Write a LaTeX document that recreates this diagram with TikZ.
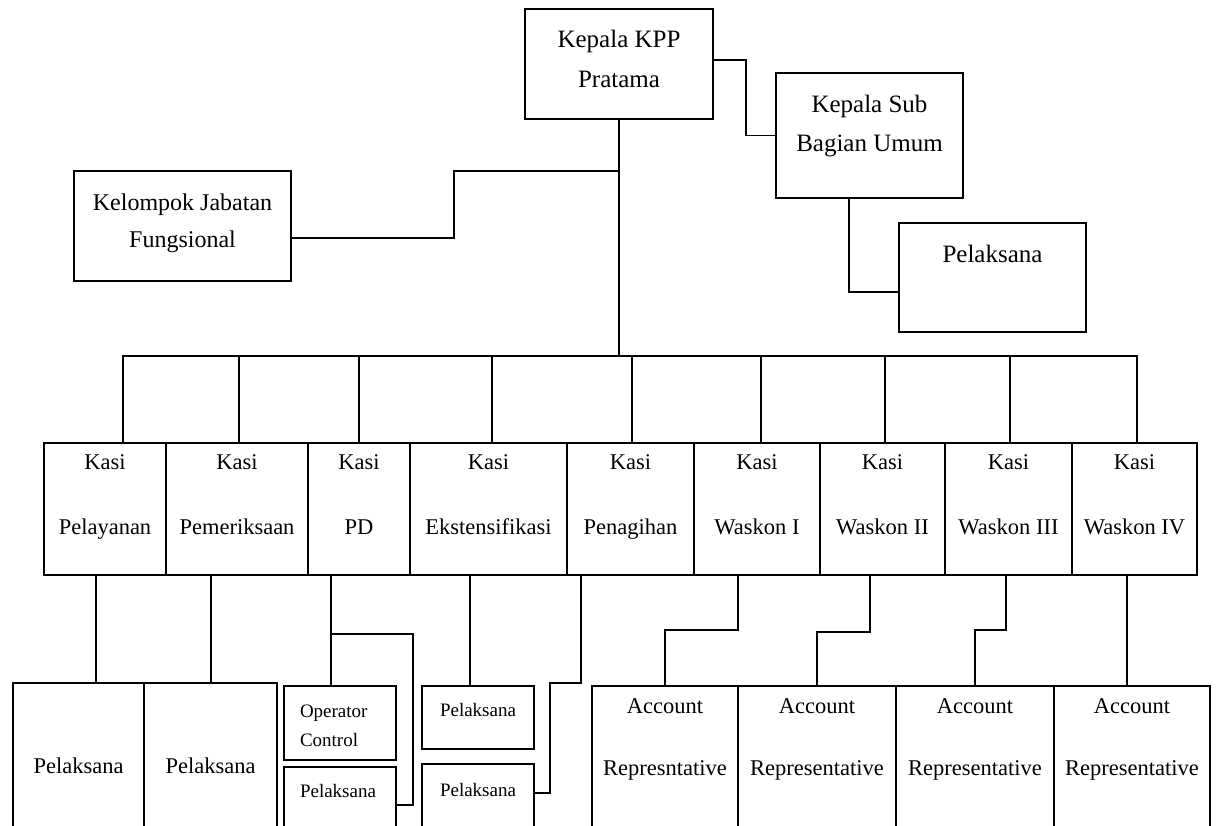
\documentclass[tikz,border=0pt]{standalone}
\usepackage{fontspec}
\setmainfont{Liberation Serif}
\usetikzlibrary{positioning}

\begin{document}
\begin{tikzpicture}[x=1pt,y=-1pt,
  unit/.style={draw,line width=1.4pt,inner sep=0pt,outer sep=0pt,align=center,anchor=north west},
  head/.style={unit,font=\fontsize{25}{40}\selectfont},
  kasi/.style={unit,font=\fontsize{22.5}{65}\selectfont,text height=91pt,text depth=41pt},
  ar/.style={unit,font=\fontsize{22.5}{62}\selectfont,text height=89pt,text depth=71pt},
  staff/.style={unit,font=\fontsize{22.5}{27}\selectfont,text height=90pt,text depth=70pt},
  small/.style={unit,font=\fontsize{19}{29}\selectfont,inner xsep=16pt,text width=80pt},
  link/.style={line width=1.4pt}]
\useasboundingbox (0,0) rectangle (1217,825);
\clip (0,0) rectangle (1217,825);

% pimpinan
\node[head,minimum width=188pt,text height=78pt,text depth=32pt](kpp) at (525,9){Kepala KPP\\Pratama};
\node[head,font=\fontsize{25}{39}\selectfont,minimum width=187pt,text height=78pt,text depth=47pt](sub) at (776,73){Kepala Sub\\Bagian Umum};
\node[head,minimum width=187pt,text height=39pt,text depth=70pt](pelsub) at (899,223){Pelaksana};
\node[head,font=\fontsize{24}{37}\selectfont,minimum width=217pt,text height=76pt,text depth=34pt](kjf) at (74,171){Kelompok Jabatan\\Fungsional};

% kepala seksi
\node[kasi,minimum width=122pt](kpel) at (44,443){Kasi\\Pelayanan};
\node[kasi,minimum width=142pt,right=0pt of kpel](kpem){Kasi\\Pemeriksaan};
\node[kasi,minimum width=102pt,right=0pt of kpem](kpd){Kasi\\PD};
\node[kasi,minimum width=157pt,right=0pt of kpd](keks){Kasi\\Ekstensifikasi};
\node[kasi,minimum width=127pt,right=0pt of keks](kpen){Kasi\\Penagihan};
\node[kasi,minimum width=126pt,right=0pt of kpen](kw1){Kasi\\Waskon I};
\node[kasi,minimum width=125pt,right=0pt of kw1](kw2){Kasi\\Waskon II};
\node[kasi,minimum width=127pt,right=0pt of kw2](kw3){Kasi\\Waskon III};
\node[kasi,minimum width=125pt,right=0pt of kw3](kw4){Kasi\\Waskon IV};

% pelaksana dan AR
\node[staff,minimum width=131pt](bp1) at (13,683){Pelaksana};
\node[staff,minimum width=133pt,right=0pt of bp1](bp2){Pelaksana};
\node[small,align=left,text height=31pt,text depth=43pt](opc) at (284,686){Operator\\Control};
\node[small,align=left,text height=30pt,text depth=50pt,below=7pt of opc](pelpd){Pelaksana};
\node[small,text height=30pt,text depth=33pt](pele1) at (422,686){Pelaksana};
\node[small,text height=32pt,text depth=48pt,below=15pt of pele1](pele2){Pelaksana};
\node[ar,minimum width=146pt](ar1) at (592,686){Account\\Represntative};
\node[ar,minimum width=158pt,right=0pt of ar1](ar2){Account\\Representative};
\node[ar,minimum width=158pt,right=0pt of ar2](ar3){Account\\Representative};
\node[ar,minimum width=156pt,right=0pt of ar3](ar4){Account\\Representative};

% garis atas
\draw[link]([yshift=4pt]kpp.east)--++(33,0)|-(sub.west);
\draw[link](sub.south -| 849,0)|-(pelsub.west |- 0,292);
\draw[link](kpp.south)--(kpp.south |- 0,356);
\draw[link](kjf.east |- 0,238)-|(454,171)--(kpp.south |- 0,171);
\draw[link](kpel.north -| 123,0)--(123,356)--(1137,356)--(kw4.north -| 1137,0);
\foreach \k/\x in {kpem/239,kpd/359,keks/492,kpen/632,kw1/761,kw2/885,kw3/1010}
  \draw[link](\k.north -| \x,0)--(\x,356);

% garis bawah
\draw[link](kpel.south -| 96,0)--(bp1.north -| 96,0);
\draw[link](kpem.south -| 211,0)--(bp2.north -| 211,0);
\draw[link](kpd.south -| 331,0)--(opc.north -| 331,0);
\draw[link](331,634)-|(413,805)--(pelpd.east |- 0,805);
\draw[link](keks.south -| 470,0)--(pele1.north -| 470,0);
\draw[link](kpen.south -| 581,0)--(581,683)-|(550,793)--(pele2.east |- 0,793);
\draw[link](kw1.south -| 738,0)--(738,630)-|(ar1.north);
\draw[link](kw2.south -| 870,0)--(870,632)-|(ar2.north);
\draw[link](kw3.south -| 1006,0)--(1006,630)-|(ar3.north);
\draw[link](kw4.south -| 1127,0)--(ar4.north -| 1127,0);
\end{tikzpicture}
\end{document}
